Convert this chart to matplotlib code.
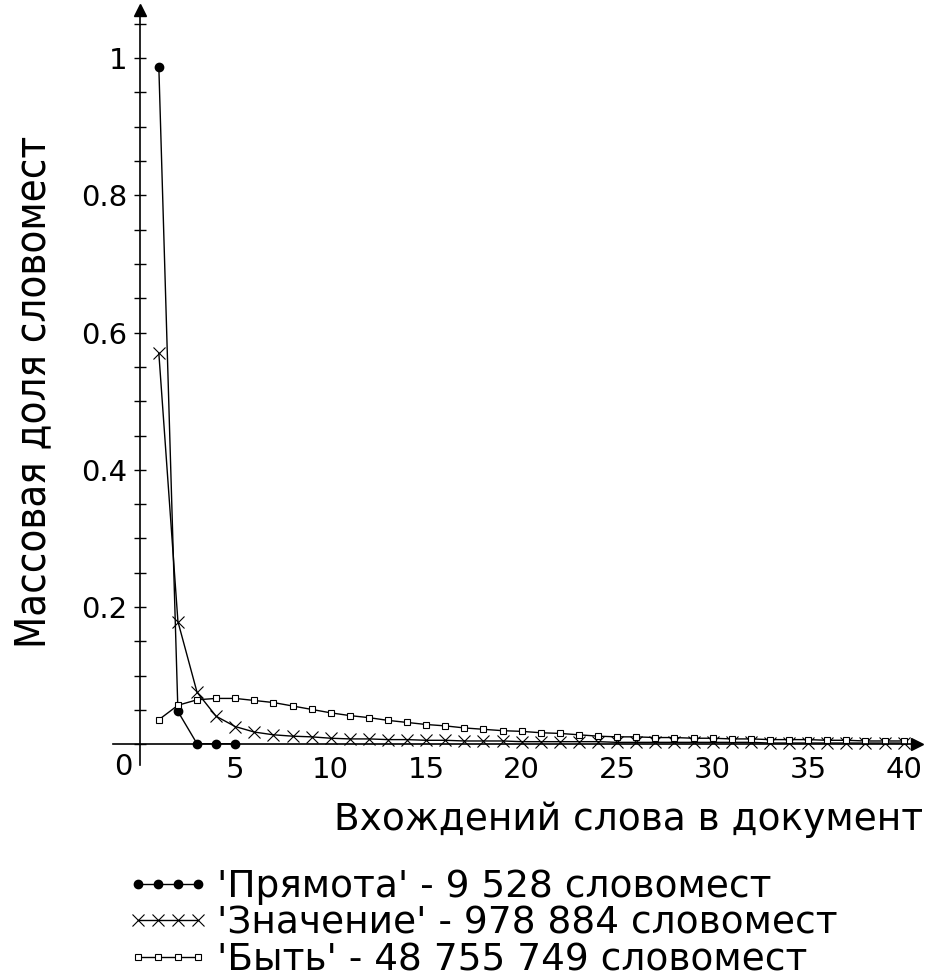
import matplotlib.pyplot as plt
from matplotlib.ticker import MultipleLocator, FixedLocator, FuncFormatter

plt.rcParams['font.family'] = ['DejaVu Sans']

# Вхождений слова в документ
x_pryamota = [1, 2, 3, 4, 5]
y_pryamota = [0.987, 0.048, 0.001, 0.001, 0.001]

x_all = list(range(1, 41))
y_znachenie = [0.570, 0.179, 0.076, 0.041, 0.026, 0.018, 0.014, 0.012, 0.011, 0.009,
               0.008, 0.008, 0.007, 0.007, 0.006, 0.006, 0.005, 0.005, 0.005, 0.004,
               0.004, 0.004, 0.004, 0.004, 0.003, 0.003, 0.003, 0.003, 0.003, 0.003,
               0.003, 0.003, 0.002, 0.002, 0.002, 0.002, 0.002, 0.002, 0.002, 0.002]
y_byt = [0.036, 0.057, 0.065, 0.067, 0.067, 0.064, 0.061, 0.056, 0.051, 0.046,
         0.042, 0.039, 0.035, 0.032, 0.029, 0.027, 0.024, 0.022, 0.020, 0.019,
         0.017, 0.016, 0.014, 0.012, 0.011, 0.011, 0.010, 0.010, 0.009, 0.009,
         0.008, 0.008, 0.007, 0.007, 0.007, 0.006, 0.006, 0.005, 0.005, 0.005]

labels = ["'Прямота' - 9 528 словомест",
          "'Значение' - 978 884 словомест",
          "'Быть' - 48 755 749 словомест"]

fig = plt.figure(figsize=(9.3, 9.8), dpi=100)
ax = fig.add_axes([113 / 930, 1 - 765 / 980, (917 - 113) / 930, (765 - 10) / 980])

l1, = ax.plot(x_pryamota, y_pryamota, color='black', lw=1, marker='o', ms=6)
l2, = ax.plot(x_all, y_znachenie, color='black', lw=1, marker='x', ms=8, mew=0.8)
l3, = ax.plot(x_all, y_byt, color='black', lw=1, marker='s', ms=4.5, mfc='white', mew=0.8)

ax.set_xlim(-1.4, 40.7)
ax.set_ylim(-0.03, 1.07)

for s in ['top', 'right']:
    ax.spines[s].set_visible(False)
ax.spines['left'].set_position(('data', 0))
ax.spines['bottom'].set_position(('data', 0))
ax.spines['left'].set_linewidth(1.2)
ax.spines['bottom'].set_linewidth(1.2)

# стрелки на концах осей
ax.plot(1, 0, '>k', ms=9, transform=ax.get_yaxis_transform(), clip_on=False)
ax.plot(0, 1, '^k', ms=9, transform=ax.get_xaxis_transform(), clip_on=False)

ax.xaxis.set_major_locator(FixedLocator([5, 10, 15, 20, 25, 30, 35, 40]))
ax.yaxis.set_major_locator(FixedLocator([0.2, 0.4, 0.6, 0.8, 1.0]))
ax.yaxis.set_minor_locator(MultipleLocator(0.05))
ax.yaxis.set_major_formatter(FuncFormatter(lambda v, p: '1' if v == 1 else f'{v:.1f}'))
ax.tick_params(axis='x', length=0, pad=8, labelsize=21)
ax.tick_params(axis='y', which='both', direction='inout', length=8, width=1, pad=5, labelsize=21)
ax.text(-0.4, -0.012, '0', ha='right', va='top', fontsize=21)

fig.text(923 / 930, 1 - 820 / 980, 'Вхождений слова в документ', ha='right', va='center', fontsize=27)
fig.text(33 / 930, 1 - 392 / 980, 'Массовая доля словомест', rotation=90, ha='center', va='center',
         fontsize=30, fontstretch='condensed')

fig.legend([l1, l2, l3], labels, loc='upper left', bbox_to_anchor=(108 / 930, 1 - 850 / 980),
           frameon=False, fontsize=27, numpoints=4, handlelength=2.2, handletextpad=0.2,
           labelspacing=0.02, borderpad=0)

fig.savefig('out.png', dpi=100)
